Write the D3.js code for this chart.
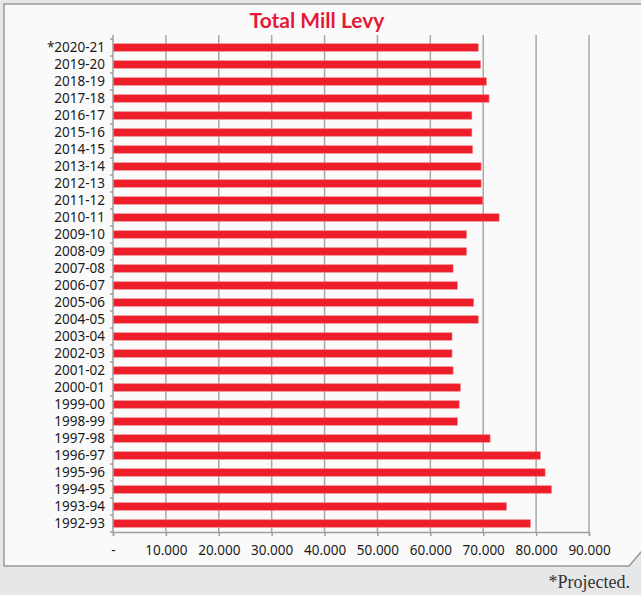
<!DOCTYPE html>
<html>
<head>
<meta charset="utf-8">
<script src="https://cdn.jsdelivr.net/npm/d3@7"></script>
<style>
    html, body { margin: 0; padding: 0; background: #e6e7e8; }
    svg { display: block; }
</style>
</head>
<body>
<div id="chart"></div>
<script>
// school years, top to bottom as shown
const years = [
    "*2020-21", "2019-20", "2018-19", "2017-18", "2016-17", "2015-16", "2014-15",
    "2013-14", "2012-13", "2011-12", "2010-11", "2009-10", "2008-09", "2007-08",
    "2006-07", "2005-06", "2004-05", "2003-04", "2002-03", "2001-02", "2000-01",
    "1999-00", "1998-99", "1997-98", "1996-97", "1995-96", "1994-95", "1993-94", "1992-93"
];
// total mill levy per year
const millLevy = [
    69.05, 69.5, 70.6, 71.1, 67.85, 67.85, 68.0,
    69.6, 69.6, 69.9, 73.0, 66.85, 66.85, 64.3,
    65.1, 68.2, 69.05, 64.1, 64.1, 64.3, 65.7,
    65.45, 65.1, 71.3, 80.8, 81.7, 82.9, 74.4, 78.9
];
const xTicks = [0, 10, 20, 30, 40, 50, 60, 70, 80, 90];

const width = 641;
const height = 595;
const margin = { top: 35, right: 52, bottom: 63, left: 113 };
const barHeight = 7.5;

const svg = d3.select("#chart")
    .append("svg")
    .attr("width", width)
    .attr("height", height);

// white-ish panel with clipped bottom-right corner
svg.append("path")
    .attr("d", "M4,4 L650,4 L650,552 L641,552 L629,566 L4,566 Z")
    .attr("fill", "#fafafa")
    .attr("stroke", "#9a9a9a")
    .attr("stroke-width", 1.5);

const x = d3.scaleLinear()
    .domain([0, 90])
    .range([margin.left, width - margin.right]);

const plotBottom = height - margin.bottom;

const y = d3.scaleBand()
    .domain(years)
    .range([margin.top + 4, plotBottom]);

// gridlines
svg.append("g")
    .selectAll("line")
    .data(xTicks.slice(1))
    .enter()
    .append("line")
    .attr("x1", d => x(d))
    .attr("x2", d => x(d))
    .attr("y1", margin.top)
    .attr("y2", plotBottom)
    .attr("stroke", "#a8a8a8")
    .attr("stroke-width", 1.5);

// bars
svg.append("g")
    .selectAll("rect")
    .data(years)
    .enter()
    .append("rect")
    .attr("x", x(0))
    .attr("y", d => y(d) + y.bandwidth() / 2 - barHeight / 2)
    .attr("width", (d, i) => x(millLevy[i]) - x(0))
    .attr("height", barHeight)
    .attr("fill", "#ee1d2a")
    .attr("stroke", "#f47a80")
    .attr("stroke-width", 0.6);

// x axis
const xAxis = d3.axisBottom(x)
    .tickValues(xTicks)
    .tickSize(4)
    .tickFormat(d => d === 0 ? "-" : d3.format(".3f")(d));

const gx = svg.append("g")
    .attr("transform", `translate(0,${plotBottom})`)
    .call(xAxis);
gx.select(".domain").attr("stroke", "#a0a0a0").attr("stroke-width", 1.5);
gx.selectAll(".tick line").attr("stroke", "#a0a0a0").attr("stroke-width", 1.5);
gx.selectAll(".tick text")
    .attr("dy", "1.2em")
    .attr("fill", "#1a1a1a")
    .style("font-family", "'Noto Sans', sans-serif")
    .style("font-size", "13.5px");

// y axis: labels plus small ticks between categories
const yAxis = d3.axisLeft(y).tickSize(0).tickPadding(8);
const gy = svg.append("g")
    .attr("transform", `translate(${margin.left},0)`)
    .call(yAxis);
gy.select(".domain")
    .attr("d", `M0,${margin.top}V${plotBottom}`)
    .attr("stroke", "#a0a0a0")
    .attr("stroke-width", 1.5);
gy.selectAll(".tick text")
    .attr("fill", "#1a1a1a")
    .style("font-family", "'Noto Sans', sans-serif")
    .style("font-size", "13.5px");

svg.append("g")
    .selectAll("line")
    .data(d3.range(years.length + 1))
    .enter()
    .append("line")
    .attr("x1", margin.left - 3)
    .attr("x2", margin.left)
    .attr("y1", i => y.range()[0] + i * y.step())
    .attr("y2", i => y.range()[0] + i * y.step())
    .attr("stroke", "#a0a0a0")
    .attr("stroke-width", 1.5);

// title
svg.append("text")
    .attr("x", 317)
    .attr("y", 28)
    .attr("text-anchor", "middle")
    .attr("fill", "#e41b38")
    .style("font-family", "Lato, sans-serif")
    .style("font-weight", "bold")
    .style("font-size", "21px")
    .text("Total Mill Levy");

// footnote
svg.append("text")
    .attr("x", 630)
    .attr("y", 588)
    .attr("text-anchor", "end")
    .attr("fill", "#333")
    .style("font-family", "'Liberation Serif', serif")
    .style("font-size", "18px")
    .text("*Projected.");
</script>
</body>
</html>
